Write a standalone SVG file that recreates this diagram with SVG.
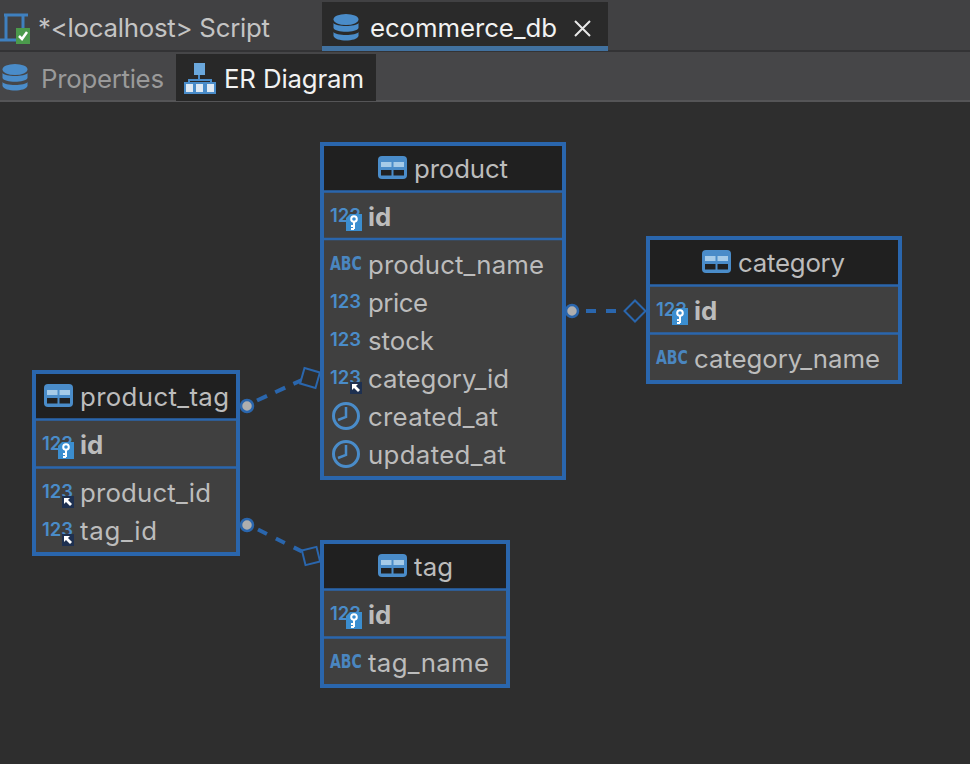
<svg xmlns="http://www.w3.org/2000/svg" width="970" height="764" viewBox="0 0 970 764">
<style>
text{font-family:Inter,"Liberation Sans",sans-serif;font-size:25.800px;fill:#bcbcbc}
.tab{fill:#f2f2f2}
.dim{fill:#9a9a9a}
.light{fill:#c4c4c4}
.b{font-weight:700}
.ic{font-size:18.500px;font-weight:600;fill:#4a8cc9}
.abc{font-size:19px;font-weight:800;fill:#4a86c0;font-family:"DejaVu Sans",sans-serif}
.box{fill:#404040;stroke:#2a66ad;stroke-width:4}
.hd{fill:#202020}
.sep{stroke:#2a66ad;stroke-width:2.500}
.conn{stroke:#2a66ad;stroke-width:4;fill:none}
.dot{fill:#aeaeae;stroke:#2a66ad;stroke-width:2.500}
.end{fill:#2e2e2e;stroke:#2a66ad;stroke-width:2}
</style>
<defs>
<g id="tbl"><rect x="0" y="0" width="29" height="23" rx="4" fill="#4a8cc9"/><rect x="3" y="6" width="10.500" height="5" fill="#a6cbe8"/><rect x="15.500" y="6" width="10.500" height="5" fill="#a6cbe8"/><rect x="3" y="14" width="10.500" height="5.500" fill="#202020"/><rect x="15.500" y="14" width="10.500" height="5.500" fill="#202020"/></g>
<g id="db"><ellipse cx="13" cy="5.500" rx="12.500" ry="5.500" fill="#4a8cc9"/><path d="M.5 9c2 4 23 4 25 0v5c-2 5-23 5-25 0zM.5 18c2 4 23 4 25 0v4c-2 6-23 6-25 0z" fill="#4a8cc9"/></g>
<g id="num"><text class="ic" x="1" y="0">123</text></g>
<g id="pk"><text class="ic" x="1" y="0">123</text><path d="M21 -8h12v17H17v-13z" fill="#3b8ed0"/><circle cx="25" cy="-3" r="2.800" fill="none" stroke="#fff" stroke-width="2"/><path d="M25 0v7M25 4h-3M25 7h-3" stroke="#fff" stroke-width="2"/></g>
<g id="fk"><text class="ic" x="1" y="0">123</text><rect x="21" y="-2" width="12" height="12" fill="#1e3050"/><path d="M23 0h6l-2 2 4 4-2 2-4-4-2 2z" fill="#fff"/></g>
<g id="clock"><circle cx="14" cy="14" r="12.500" fill="none" stroke="#4a8cc9" stroke-width="3"/><path d="M14 5v10l-8 3" fill="none" stroke="#4a8cc9" stroke-width="2.500"/></g>
</defs>
<rect width="970" height="764" fill="#2e2e2e"/>
<g id="tabbar">
<rect width="970" height="50" fill="#414143"/>
<rect y="50" width="970" height="3" fill="#333335"/>
<rect y="52" width="970" height="48" fill="#464648"/>
<rect y="100" width="970" height="2" fill="#555557"/>
<rect x="322" y="2" width="286" height="44" fill="#2a2a2a"/>
<rect x="322" y="46" width="286" height="5" fill="#41719f"/>
<rect x="176" y="54" width="200" height="47" fill="#282828"/>
<path d="M4 15h24M6 15v25M23 15v14M0 40h18" fill="none" stroke="#3f80bf" stroke-width="3"/>
<rect x="16" y="28" width="14" height="16" fill="#4b9a4c"/>
<path d="M19 36l3 3 5-7" fill="none" stroke="#fff" stroke-width="2.500"/>
<text class="light" x="38" y="37" textLength="232">*&lt;localhost&gt; Script</text>
<use href="#db" x="333" y="14"/>
<text class="tab" x="370" y="37" textLength="187">ecommerce_db</text>
<path d="M575 21l15 15M590 21l-15 15" stroke="#e8e8e8" stroke-width="2" fill="none"/>
<use href="#db" x="2" y="64"/>
<text class="dim" x="41" y="88" textLength="123">Properties</text>
<rect x="194" y="63" width="11" height="12" fill="#6aa7dc"/>
<path d="M199 75v5M189 86v-6h22v6" fill="none" stroke="#4a8cc9" stroke-width="2"/>
<rect x="185" y="83" width="9" height="10" fill="#dfe9f3" stroke="#4a8cc9" stroke-width="2"/>
<rect x="195" y="83" width="9" height="10" fill="#dfe9f3" stroke="#4a8cc9" stroke-width="2"/>
<rect x="206" y="83" width="9" height="10" fill="#dfe9f3" stroke="#4a8cc9" stroke-width="2"/>
<text class="tab" x="224" y="88" textLength="140">ER Diagram</text>
</g>
<g id="connectors">
<path class="conn" stroke-dasharray="10 10" d="M586 311H625"/>
<path class="conn" stroke-dasharray="11 9" d="M257 400.500L302 380"/>
<path class="conn" stroke-dasharray="10 10" d="M258 529.500L302 551.500"/>
<circle class="dot" cx="572" cy="311" r="6"/>
<circle class="dot" cx="247" cy="406" r="6"/>
<circle class="dot" cx="247" cy="525" r="6"/>
<path class="end" d="M635 300.500L645.500 311L635 321.500L624.500 311Z"/>
<rect class="end" x="302" y="370" width="16" height="16" transform="rotate(16 310 378)"/>
<rect class="end" x="303.500" y="548.500" width="15" height="15" transform="rotate(-14 311 556)"/>
</g>
<g id="product">
<rect class="box" x="322" y="144" width="242" height="334"/>
<rect class="hd" x="324" y="146" width="238" height="45"/>
<path class="sep" d="M324 191.500H562M324 239H562"/>
<use href="#tbl" x="378" y="156"/>
<text x="414" y="178" textLength="94">product</text>
<use href="#pk" x="329" y="222"/><text class="b" x="368" y="226">id</text>
<text class="abc" transform="translate(330 270) scale(.74 1)">ABC</text><text x="368" y="274" textLength="176">product_name</text>
<use href="#num" x="329" y="308"/><text x="368" y="312" textLength="60">price</text>
<use href="#num" x="329" y="346"/><text x="368" y="350" textLength="66">stock</text>
<use href="#fk" x="329" y="384"/><text x="368" y="388" textLength="141">category_id</text>
<use href="#clock" x="332" y="402"/><text x="368" y="426" textLength="130">created_at</text>
<use href="#clock" x="332" y="440"/><text x="368" y="464" textLength="138">updated_at</text>
</g>
<g id="category">
<rect class="box" x="648" y="238" width="252" height="144"/>
<rect class="hd" x="650" y="240" width="248" height="45"/>
<path class="sep" d="M650 285.500H898M650 333.500H898"/>
<use href="#tbl" x="702" y="250"/>
<text x="738" y="272" textLength="107">category</text>
<use href="#pk" x="655" y="316"/><text class="b" x="694" y="320">id</text>
<text class="abc" transform="translate(656 364) scale(.74 1)">ABC</text><text x="694" y="368" textLength="186">category_name</text>
</g>
<g id="product_tag">
<rect class="box" x="34" y="372" width="204" height="182"/>
<rect class="hd" x="36" y="374" width="200" height="45"/>
<path class="sep" d="M36 419.500H236M36 467.500H236"/>
<use href="#tbl" x="44" y="384"/>
<text x="80" y="406" textLength="149">product_tag</text>
<use href="#pk" x="41" y="450"/><text class="b" x="80" y="454">id</text>
<use href="#fk" x="41" y="498"/><text x="80" y="502" textLength="131">product_id</text>
<use href="#fk" x="41" y="536"/><text x="80" y="540" textLength="77">tag_id</text>
</g>
<g id="tag">
<rect class="box" x="322" y="542" width="186" height="144"/>
<rect class="hd" x="324" y="544" width="182" height="45"/>
<path class="sep" d="M324 589.500H506M324 637.500H506"/>
<use href="#tbl" x="378" y="554"/>
<text x="414" y="576" textLength="39">tag</text>
<use href="#pk" x="329" y="620"/><text class="b" x="368" y="624">id</text>
<text class="abc" transform="translate(330 668) scale(.74 1)">ABC</text><text x="368" y="672" textLength="121">tag_name</text>
</g>
</svg>
